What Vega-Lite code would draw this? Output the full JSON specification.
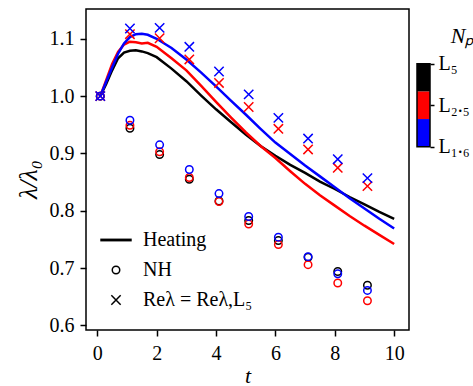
{
  "$schema": "https://vega.github.io/schema/vega-lite/v6.json",
  "padding": {"left": 14, "top": 8, "right": 0, "bottom": 0},
  "background": "white",
  "config": {
    "font": "Liberation Serif",
    "view": {"stroke": "black", "strokeWidth": 1.5},
    "concat": {"spacing": 6},
    "text": {"font": "Liberation Serif"},
    "axis": {
      "grid": false,
      "domain": false,
      "labelFont": "Liberation Serif",
      "labelFontSize": 20,
      "labelColor": "black",
      "tickColor": "black",
      "tickWidth": 1.5,
      "tickSize": 6,
      "labelPadding": 5,
      "titleFont": "Liberation Serif",
      "titleFontSize": 24,
      "titleFontWeight": "normal",
      "titleColor": "black"
    }
  },
  "datasets": {
    "main": [
      {"t":0.1,"v":1.0,"case":"L5","kind":"Heating"},{"t":0.3,"v":1.021,"case":"L5","kind":"Heating"},{"t":0.5,"v":1.045,"case":"L5","kind":"Heating"},{"t":0.7,"v":1.066,"case":"L5","kind":"Heating"},{"t":0.9,"v":1.076,"case":"L5","kind":"Heating"},{"t":1.1,"v":1.079,"case":"L5","kind":"Heating"},{"t":1.3,"v":1.08,"case":"L5","kind":"Heating"},{"t":1.5,"v":1.078,"case":"L5","kind":"Heating"},{"t":1.7,"v":1.075,"case":"L5","kind":"Heating"},{"t":2.0,"v":1.068,"case":"L5","kind":"Heating"},{"t":2.5,"v":1.048,"case":"L5","kind":"Heating"},{"t":3.0,"v":1.026,"case":"L5","kind":"Heating"},{"t":3.5,"v":1.001,"case":"L5","kind":"Heating"},{"t":4.0,"v":0.977,"case":"L5","kind":"Heating"},{"t":4.5,"v":0.955,"case":"L5","kind":"Heating"},{"t":5.0,"v":0.933,"case":"L5","kind":"Heating"},{"t":5.5,"v":0.913,"case":"L5","kind":"Heating"},{"t":6.0,"v":0.896,"case":"L5","kind":"Heating"},{"t":6.5,"v":0.88,"case":"L5","kind":"Heating"},{"t":7.0,"v":0.866,"case":"L5","kind":"Heating"},{"t":7.5,"v":0.851,"case":"L5","kind":"Heating"},{"t":8.0,"v":0.838,"case":"L5","kind":"Heating"},{"t":8.5,"v":0.824,"case":"L5","kind":"Heating"},{"t":9.0,"v":0.811,"case":"L5","kind":"Heating"},{"t":9.5,"v":0.798,"case":"L5","kind":"Heating"},{"t":10.0,"v":0.786,"case":"L5","kind":"Heating"},
      {"t":0.1,"v":1.0,"case":"L2.5","kind":"Heating"},{"t":0.3,"v":1.028,"case":"L2.5","kind":"Heating"},{"t":0.5,"v":1.056,"case":"L2.5","kind":"Heating"},{"t":0.7,"v":1.077,"case":"L2.5","kind":"Heating"},{"t":0.9,"v":1.090,"case":"L2.5","kind":"Heating"},{"t":1.1,"v":1.095,"case":"L2.5","kind":"Heating"},{"t":1.3,"v":1.094,"case":"L2.5","kind":"Heating"},{"t":1.5,"v":1.092,"case":"L2.5","kind":"Heating"},{"t":1.7,"v":1.093,"case":"L2.5","kind":"Heating"},{"t":2.0,"v":1.086,"case":"L2.5","kind":"Heating"},{"t":2.5,"v":1.066,"case":"L2.5","kind":"Heating"},{"t":3.0,"v":1.045,"case":"L2.5","kind":"Heating"},{"t":3.5,"v":1.018,"case":"L2.5","kind":"Heating"},{"t":4.0,"v":0.99,"case":"L2.5","kind":"Heating"},{"t":4.5,"v":0.963,"case":"L2.5","kind":"Heating"},{"t":5.0,"v":0.937,"case":"L2.5","kind":"Heating"},{"t":5.5,"v":0.913,"case":"L2.5","kind":"Heating"},{"t":6.0,"v":0.892,"case":"L2.5","kind":"Heating"},{"t":6.5,"v":0.869,"case":"L2.5","kind":"Heating"},{"t":7.0,"v":0.847,"case":"L2.5","kind":"Heating"},{"t":7.5,"v":0.827,"case":"L2.5","kind":"Heating"},{"t":8.0,"v":0.809,"case":"L2.5","kind":"Heating"},{"t":8.5,"v":0.791,"case":"L2.5","kind":"Heating"},{"t":9.0,"v":0.774,"case":"L2.5","kind":"Heating"},{"t":9.5,"v":0.758,"case":"L2.5","kind":"Heating"},{"t":10.0,"v":0.742,"case":"L2.5","kind":"Heating"},
      {"t":0.1,"v":1.0,"case":"L1.6","kind":"Heating"},{"t":0.3,"v":1.025,"case":"L1.6","kind":"Heating"},{"t":0.5,"v":1.05,"case":"L1.6","kind":"Heating"},{"t":0.7,"v":1.074,"case":"L1.6","kind":"Heating"},{"t":0.9,"v":1.092,"case":"L1.6","kind":"Heating"},{"t":1.1,"v":1.103,"case":"L1.6","kind":"Heating"},{"t":1.3,"v":1.108,"case":"L1.6","kind":"Heating"},{"t":1.5,"v":1.109,"case":"L1.6","kind":"Heating"},{"t":1.7,"v":1.107,"case":"L1.6","kind":"Heating"},{"t":2.0,"v":1.1,"case":"L1.6","kind":"Heating"},{"t":2.5,"v":1.084,"case":"L1.6","kind":"Heating"},{"t":3.0,"v":1.064,"case":"L1.6","kind":"Heating"},{"t":3.5,"v":1.041,"case":"L1.6","kind":"Heating"},{"t":4.0,"v":1.017,"case":"L1.6","kind":"Heating"},{"t":4.5,"v":0.992,"case":"L1.6","kind":"Heating"},{"t":5.0,"v":0.968,"case":"L1.6","kind":"Heating"},{"t":5.5,"v":0.943,"case":"L1.6","kind":"Heating"},{"t":6.0,"v":0.919,"case":"L1.6","kind":"Heating"},{"t":6.5,"v":0.899,"case":"L1.6","kind":"Heating"},{"t":7.0,"v":0.879,"case":"L1.6","kind":"Heating"},{"t":7.5,"v":0.86,"case":"L1.6","kind":"Heating"},{"t":8.0,"v":0.841,"case":"L1.6","kind":"Heating"},{"t":8.5,"v":0.822,"case":"L1.6","kind":"Heating"},{"t":9.0,"v":0.804,"case":"L1.6","kind":"Heating"},{"t":9.5,"v":0.786,"case":"L1.6","kind":"Heating"},{"t":10.0,"v":0.769,"case":"L1.6","kind":"Heating"},
      {"t":0.1,"v":1.0,"case":"L5","kind":"NH"},{"t":1.1,"v":0.944,"case":"L5","kind":"NH"},{"t":2.1,"v":0.898,"case":"L5","kind":"NH"},{"t":3.1,"v":0.855,"case":"L5","kind":"NH"},{"t":4.1,"v":0.817,"case":"L5","kind":"NH"},{"t":5.1,"v":0.783,"case":"L5","kind":"NH"},{"t":6.1,"v":0.748,"case":"L5","kind":"NH"},{"t":7.1,"v":0.719,"case":"L5","kind":"NH"},{"t":8.1,"v":0.694,"case":"L5","kind":"NH"},{"t":9.1,"v":0.67,"case":"L5","kind":"NH"},
      {"t":0.1,"v":1.0,"case":"L2.5","kind":"NH"},{"t":1.1,"v":0.949,"case":"L2.5","kind":"NH"},{"t":2.1,"v":0.903,"case":"L2.5","kind":"NH"},{"t":3.1,"v":0.858,"case":"L2.5","kind":"NH"},{"t":4.1,"v":0.816,"case":"L2.5","kind":"NH"},{"t":5.1,"v":0.777,"case":"L2.5","kind":"NH"},{"t":6.1,"v":0.741,"case":"L2.5","kind":"NH"},{"t":7.1,"v":0.706,"case":"L2.5","kind":"NH"},{"t":8.1,"v":0.674,"case":"L2.5","kind":"NH"},{"t":9.1,"v":0.643,"case":"L2.5","kind":"NH"},
      {"t":0.1,"v":1.0,"case":"L1.6","kind":"NH"},{"t":1.1,"v":0.958,"case":"L1.6","kind":"NH"},{"t":2.1,"v":0.915,"case":"L1.6","kind":"NH"},{"t":3.1,"v":0.872,"case":"L1.6","kind":"NH"},{"t":4.1,"v":0.83,"case":"L1.6","kind":"NH"},{"t":5.1,"v":0.79,"case":"L1.6","kind":"NH"},{"t":6.1,"v":0.754,"case":"L1.6","kind":"NH"},{"t":7.1,"v":0.72,"case":"L1.6","kind":"NH"},{"t":8.1,"v":0.69,"case":"L1.6","kind":"NH"},{"t":9.1,"v":0.661,"case":"L1.6","kind":"NH"},
      {"t":0.1,"v":1.0,"case":"L2.5","kind":"Re"},{"t":1.1,"v":1.108,"case":"L2.5","kind":"Re"},{"t":2.1,"v":1.101,"case":"L2.5","kind":"Re"},{"t":3.1,"v":1.064,"case":"L2.5","kind":"Re"},{"t":4.1,"v":1.023,"case":"L2.5","kind":"Re"},{"t":5.1,"v":0.981,"case":"L2.5","kind":"Re"},{"t":6.1,"v":0.943,"case":"L2.5","kind":"Re"},{"t":7.1,"v":0.907,"case":"L2.5","kind":"Re"},{"t":8.1,"v":0.875,"case":"L2.5","kind":"Re"},{"t":9.1,"v":0.843,"case":"L2.5","kind":"Re"},
      {"t":0.1,"v":1.0,"case":"L1.6","kind":"Re"},{"t":1.1,"v":1.118,"case":"L1.6","kind":"Re"},{"t":2.1,"v":1.119,"case":"L1.6","kind":"Re"},{"t":3.1,"v":1.086,"case":"L1.6","kind":"Re"},{"t":4.1,"v":1.043,"case":"L1.6","kind":"Re"},{"t":5.1,"v":1.003,"case":"L1.6","kind":"Re"},{"t":6.1,"v":0.962,"case":"L1.6","kind":"Re"},{"t":7.1,"v":0.926,"case":"L1.6","kind":"Re"},{"t":8.1,"v":0.89,"case":"L1.6","kind":"Re"},{"t":9.1,"v":0.857,"case":"L1.6","kind":"Re"}
    ],
    "bar": [
      {"case":"L1.6","lo":0,"hi":1},
      {"case":"L2.5","lo":1,"hi":2},
      {"case":"L5","lo":2,"hi":3}
    ]
  },
  "hconcat": [
    {
      "width": 323,
      "height": 321,
      "data": {"name": "main"},
      "layer": [
        {
          "transform": [{"filter": "datum.kind === 'Heating'"}],
          "mark": {"type": "line", "strokeWidth": 2.5},
          "encoding": {
            "x": {"field": "t", "type": "quantitative", "scale": {"domain": [-0.38, 10.5], "nice": false, "zero": false}, "axis": {"values": [0, 2, 4, 6, 8, 10], "title": "t", "titleFontStyle": "italic", "titleFontSize": 22, "titlePadding": 2, "labelPadding": 7, "labelFont": "Liberation Serif", "titleFont": "Liberation Serif"}},
            "y": {"field": "v", "type": "quantitative", "scale": {"domain": [0.592, 1.152], "nice": false, "zero": false}, "axis": {"values": [0.6, 0.7, 0.8, 0.9, 1.0, 1.1], "format": ".1f", "title": "λ/λ₀", "titleFontStyle": "italic", "titleFontSize": 26, "titleAnchor": "middle", "titleY": 170, "labelPadding": 6, "titlePadding": 8, "labelFont": "Liberation Serif", "titleFont": "Liberation Serif"}},
            "color": {"field": "case", "type": "nominal", "sort": null, "scale": {"domain": ["L5", "L2.5", "L1.6"], "range": ["black", "red", "blue"]}, "legend": null}
          }
        },
        {
          "transform": [{"filter": "datum.kind !== 'Heating'"}],
          "mark": {"type": "point", "filled": false, "size": 56, "strokeWidth": 1.5, "opacity": 1},
          "encoding": {
            "x": {"field": "t", "type": "quantitative"},
            "y": {"field": "v", "type": "quantitative"},
            "color": {"field": "case", "type": "nominal", "legend": null},
            "shape": {
              "field": "kind", "type": "nominal",
              "scale": {"domain": ["Heating", "NH", "Re"], "range": ["M-4,-0.18L4,-0.18L4,0.18L-4,0.18Z", "circle", "M-1.25,-1.25L1.25,1.25M-1.25,1.25L1.25,-1.25"]},
              "legend": {
                "orient": "bottom-left",
                "title": null,
                "offset": 16,
                "padding": 4,
                "symbolSize": 56,
                "symbolStrokeColor": "black",
                "symbolFillColor": "transparent",
                "symbolStrokeWidth": 1.5,
                "labelFont": "Liberation Serif",
                "labelFontSize": 20,
                "labelColor": "black",
                "labelOffset": 17,
                "rowPadding": 10,
                "labelExpr": "datum.value === 'Re' ? 'Reλ = Reλ,L₅' : datum.value"
              }
            }
          }
        }
      ]
    },
    {
      "width": 13,
      "height": 321,
      "view": {"stroke": null},
      "layer": [
        {
          "data": {"name": "bar"},
          "mark": {"type": "rect"},
          "encoding": {
            "x": {"datum": 0, "type": "quantitative", "scale": {"domain": [0, 1], "nice": false, "zero": false}, "axis": null},
            "x2": {"datum": 1},
            "y": {"field": "lo", "type": "quantitative", "scale": {"domain": [-6.625, 4.977], "nice": false, "zero": false}, "axis": {"orient": "right", "values": [0, 1.5, 3], "title": null, "tickSize": 4, "labelPadding": 4, "labelFont": "Liberation Serif", "labelExpr": "datum.value === 0 ? 'L₁.₆' : (datum.value === 3 ? 'L₅' : 'L₂.₅')"}},
            "y2": {"field": "hi"},
            "color": {"field": "case", "type": "nominal", "legend": null}
          }
        },
        {
          "data": {"values": [{}]},
          "mark": {"type": "rect", "fill": null, "stroke": "black", "strokeWidth": 1.5},
          "encoding": {
            "x": {"datum": 0, "type": "quantitative"},
            "x2": {"datum": 1},
            "y": {"datum": 0, "type": "quantitative"},
            "y2": {"datum": 3}
          }
        },
        {
          "data": {"values": [{}]},
          "mark": {"type": "text", "align": "left", "baseline": "middle", "fontSize": 22, "fontStyle": "italic", "font": "Liberation Serif", "text": "Nₚ"},
          "encoding": {
            "x": {"datum": 2.6, "type": "quantitative"},
            "y": {"datum": 4.0, "type": "quantitative"}
          }
        }
      ]
    }
  ]
}
